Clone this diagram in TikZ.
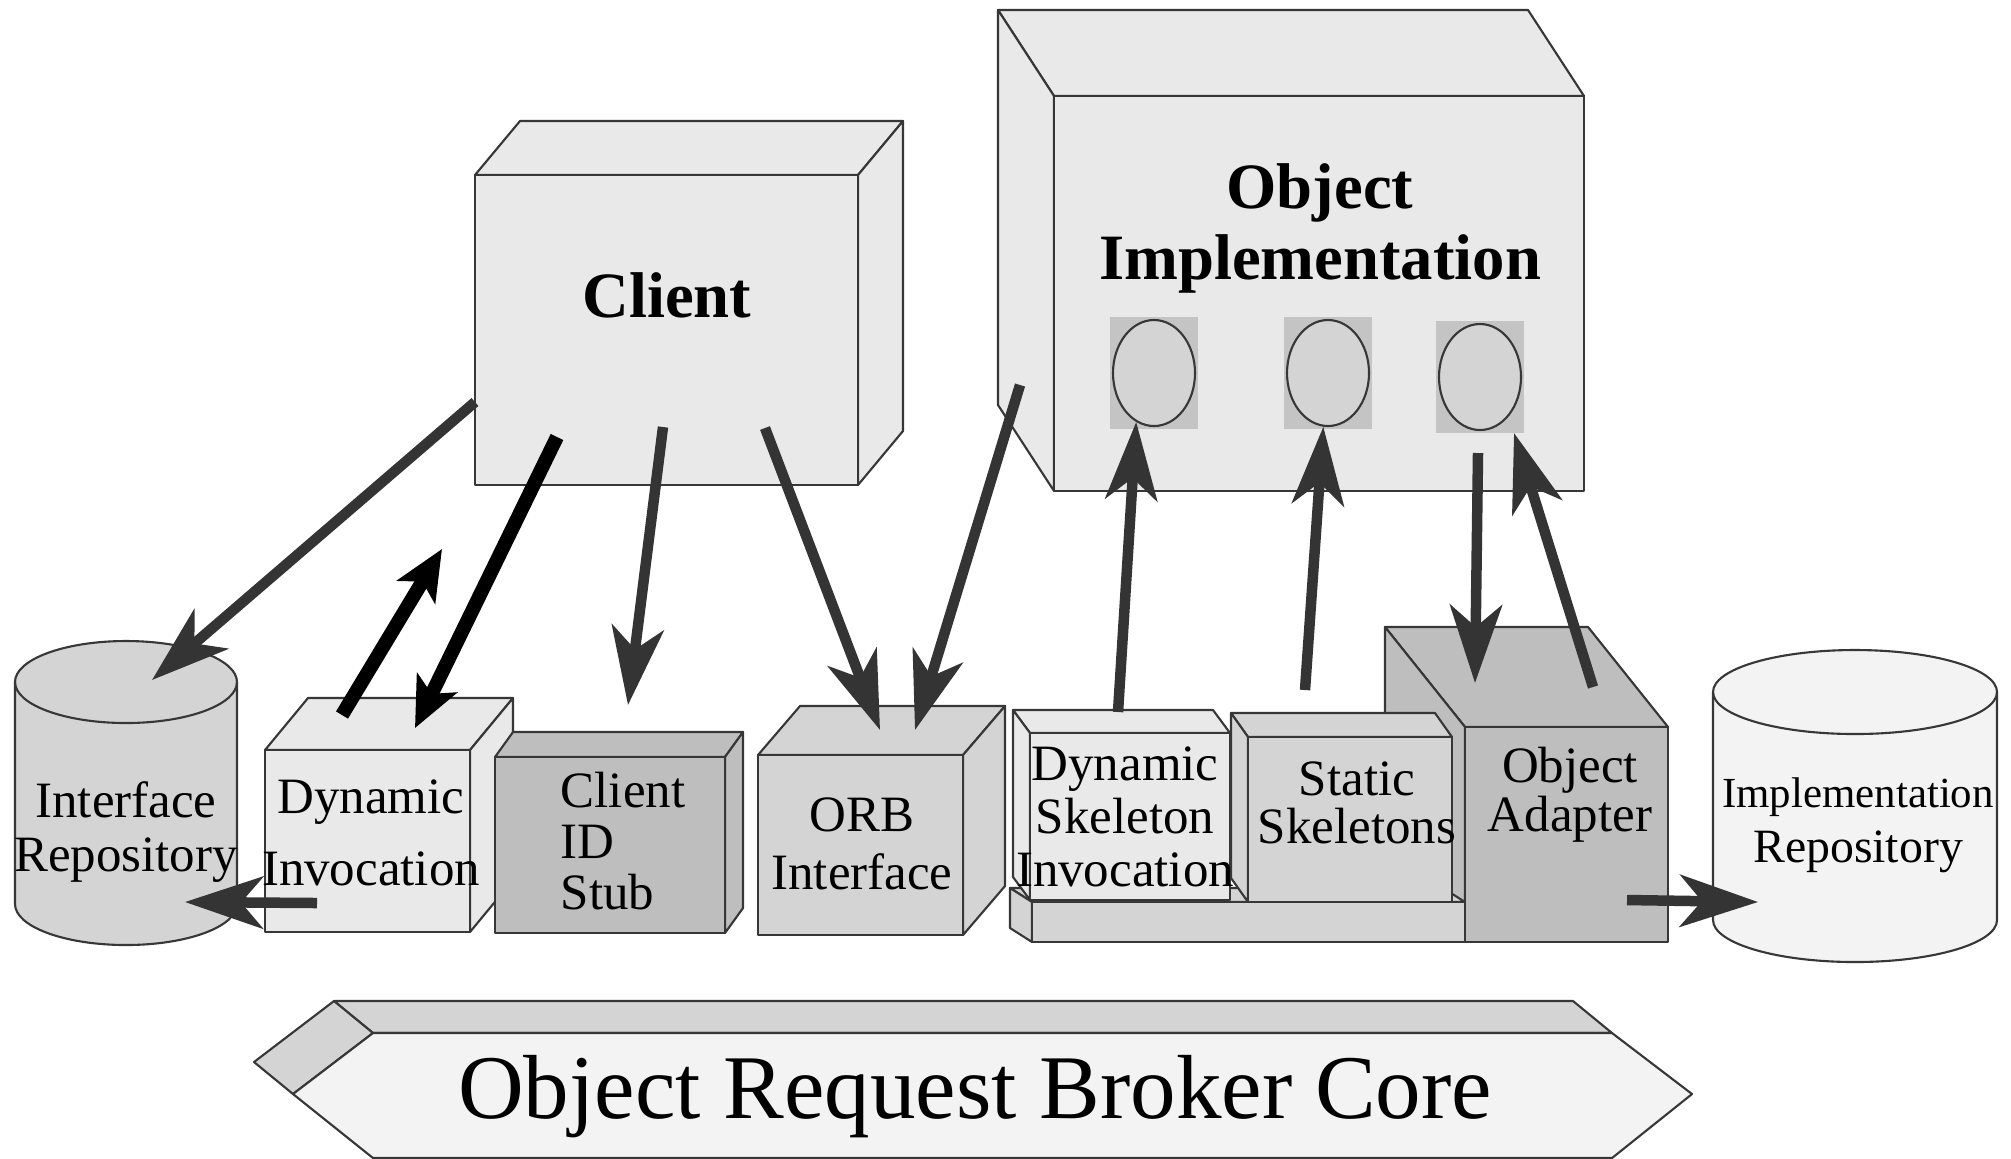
\documentclass[tikz,border=0pt]{standalone}
\usepackage{fontspec}
\setmainfont{Liberation Serif}
\usetikzlibrary{arrows.meta,calc,fit,shapes.geometric,positioning}

\definecolor{paleface}{RGB}{243,243,243}
\definecolor{lightface}{RGB}{233,233,233}
\definecolor{midface}{RGB}{212,212,212}
\definecolor{darkface}{RGB}{190,190,190}
\definecolor{ovalshade}{RGB}{196,196,196}
\definecolor{edgecolor}{RGB}{55,55,55}
\definecolor{arrowgray}{RGB}{52,52,52}

\tikzset{
  face/.style={draw=edgecolor,line width=0.6pt,line join=round,inner sep=0pt,outer sep=0pt},
  lbl/.style={font=\fontsize{14.5}{15.6}\selectfont,align=center,inner sep=0pt},
  bigl/.style={font=\fontsize{18.4}{20.2}\selectfont\bfseries,align=center,inner sep=0pt},
  servant/.style={ellipse,draw=edgecolor,line width=0.6pt,fill=midface,
    minimum width=8.2mm,minimum height=10.6mm,inner sep=0pt},
  flow/.style={draw=arrowgray,line width=1.05mm,-{Stealth[length=7.8mm,width=5.2mm,inset=2.2mm]}},
  call/.style={draw=black,line width=1.4mm,-{Stealth[length=5mm,width=4.4mm,inset=1.2mm]}},
}

% 3D block: name, fill, front top-left, front bottom-right, depth, visible side (e/w)
\newcommand{\orbblock}[6]{%
  \coordinate (#1-nw) at (#3);
  \coordinate (#1-se) at (#4);
  \coordinate (#1-ne) at (#1-se |- #1-nw);
  \coordinate (#1-sw) at (#1-nw |- #1-se);
  \draw[face,fill=#2] (#1-nw) -- (#1-ne) -- ++(#5) -- ($(#1-nw)+(#5)$) -- cycle;
  \draw[face,fill=#2] (#1-n#6) -- (#1-s#6) -- ++(#5) -- ($(#1-n#6)+(#5)$) -- cycle;
  \node[face,fill=#2,fit=(#1-nw)(#1-se)] (#1) {};
}

% repository drum: name, fill, centre x, top y, bottom y, x radius, y radius
\newcommand{\drum}[7]{%
  \draw[face,fill=#2] (#3-#6,#4) -- (#3-#6,#5)
    arc[start angle=180,end angle=0,x radius=#6,y radius=#7]
    -- (#3+#6,#4) arc[start angle=0,end angle=-180,x radius=#6,y radius=#7] -- cycle;
  \draw[face] (#3-#6,#4) arc[start angle=180,end angle=0,x radius=#6,y radius=#7];
  \coordinate (#1) at (#3,#4);
}

\begin{document}
\begin{tikzpicture}[x=0.1mm,y=-0.1mm]
    \useasboundingbox (0,0) rectangle (2011,1158);
    \fill[white] (0,0) rectangle (2011,1158);

    % client and server side
    \orbblock{objimpl}{lightface}{1054,96}{1584,491}{-56,-86}{w}
    \orbblock{client}{lightface}{475,175}{858,485}{45,-54}{e}
    \foreach \i/\x/\y in {1/1154/373, 2/1328/373, 3/1480/377}{
        \fill[ovalshade] (\x-44,\y-56) rectangle (\x+44,\y+56);
        \node[servant] (obj\i) at (\x,\y) {};
    }

    % client side interfaces
    \drum{ifrepo}{midface}{126}{682}{904}{111}{41}
    \orbblock{dii}{lightface}{265,750}{470,932}{43,-52}{e}
    \orbblock{stub}{darkface}{495,757}{725,933}{18,-25}{e}
    \orbblock{orbif}{midface}{758,755}{963,935}{42,-49}{e}

    % server side interfaces
    \orbblock{adapter}{darkface}{1465,727}{1668,942}{-80,-100}{w}
    \orbblock{base}{midface}{1032,902}{1465,942}{-22,-14}{w}
    \orbblock{dsi}{lightface}{1030,733}{1230,900}{-17,-23}{w}
    \orbblock{statsk}{midface}{1248,737}{1452,902}{-17,-24}{w}
    \drum{imprepo}{paleface}{1855}{692}{920}{142}{42}

    % broker core bar
    \draw[face,fill=midface] (373,1033) -- (1612,1033) -- (1573,1001) -- (334,1001) -- cycle;
    \draw[face,fill=midface] (293,1094) -- (373,1033) -- (334,1001) -- (254,1062) -- cycle;
    \draw[face,fill=paleface] (373,1033) -- (1612,1033) -- (1692,1094) -- (1612,1158)
        -- (373,1158) -- (293,1094) -- cycle;

    % arrow ends
    \coordinate (client-ir) at (475,402);   \coordinate (ir-in) at (152,680);
    \coordinate (client-dii) at (557,437);  \coordinate (dii-in) at (415,728);
    \coordinate (dii-out) at (342,715);     \coordinate (dii-up) at (442,549);
    \coordinate (client-stub) at (663,427); \coordinate (stub-in) at (628,705);
    \coordinate (client-orb) at (765,428);  \coordinate (orb-in1) at (880,730);
    \coordinate (impl-orb) at (1020,385);   \coordinate (orb-in2) at (915,730);
    \coordinate (dsi-out) at (1118,712);    \coordinate (stat-out) at (1305,690);
    \coordinate (obj3-down) at (1478,453);  \coordinate (oa-in) at (1475,683);
    \coordinate (oa-out) at (1593,687);     \coordinate (obj3-in) at (1514,433);
    \coordinate (dii-left) at (317,903);    \coordinate (ir-side) at (185,902);
    \coordinate (oa-right) at (1627,900);   \coordinate (imp-in) at (1758,902);

    \draw[flow] (client-ir) -- (ir-in);
    \draw[call] (client-dii) -- (dii-in);
    \draw[call] (dii-out) -- (dii-up);
    \draw[flow] (client-stub) -- (stub-in);
    \draw[flow] (client-orb) -- (orb-in1);
    \draw[flow] (impl-orb) -- (orb-in2);
    \draw[flow] (dsi-out) -- (obj1.250);
    \draw[flow] (stat-out) -- (obj2.265);
    \draw[flow] (obj3-down) -- (oa-in);
    \draw[flow] (oa-out) -- (obj3-in);
    \draw[flow] (dii-left) -- (ir-side);
    \draw[flow] (oa-right) -- (imp-in);

    % labels
    \node[bigl] (client-lbl) at (667,295) {Client};
    \node[bigl] (impl-lbl) at (1320,228) {Object\\Implementation};
    \node[lbl] (ifrepo-lbl) at (126,832) {Interface\\Repository};
    \node[lbl,font=\fontsize{14.5}{20.5}\selectfont] (dii-lbl) at (371,833) {Dynamic\\Invocation};
    \node[lbl,align=left,anchor=west,font=\fontsize{14.5}{14.6}\selectfont] (stub-lbl) at (560,841) {Client\\ID\\Stub};
    \node[lbl,font=\fontsize{14.5}{16.5}\selectfont] (orbif-lbl) at (862,844) {ORB\\Interface};
    \node[lbl,font=\fontsize{14.5}{15.1}\selectfont] (dsi-lbl) at (1125,817) {Dynamic\\Skeleton\\Invocation};
    \node[lbl,font=\fontsize{14.5}{13.7}\selectfont] (statsk-lbl) at (1357,803) {Static\\Skeletons};
    \node[lbl,font=\fontsize{14.5}{14}\selectfont] (adapter-lbl) at (1570,795) {Object\\Adapter};
    \node[lbl,font=\fontsize{12.2}{15.6}\selectfont] (imprepo-lbl) at (1858,825)
        {Implementation\\{\fontsize{13.6}{15.6}\selectfont Repository}};
    \node[font=\fontsize{25.9}{30}\selectfont,anchor=base,inner sep=0pt] (core) at (975,1118) {Object Request Broker Core};
\end{tikzpicture}
\end{document}
